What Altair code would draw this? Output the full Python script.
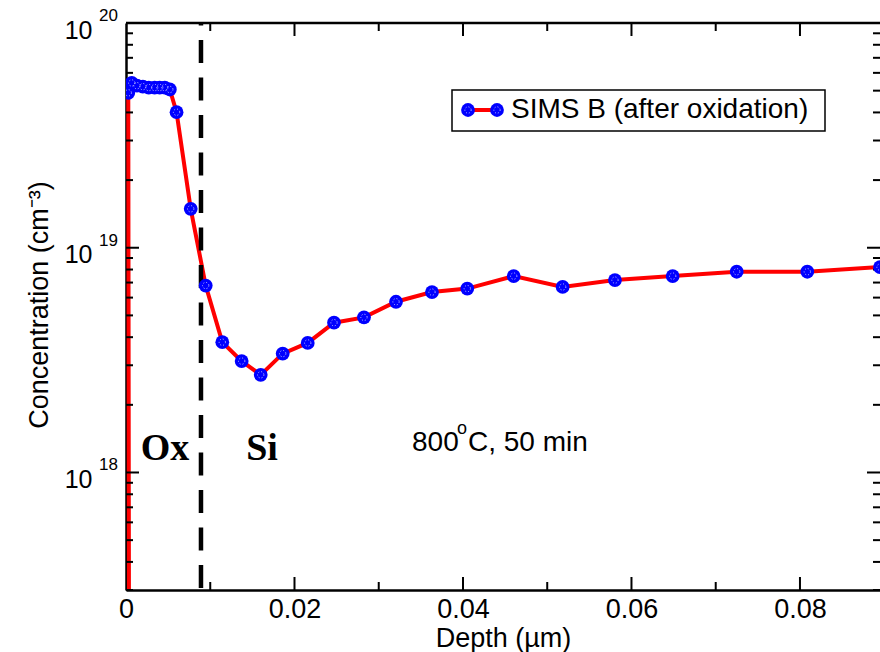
import altair as alt
import pandas as pd

# ---- data ----
depth_um = [0.0004, 0.00027, 0.00068, 0.0013, 0.0020, 0.0027, 0.0034, 0.0040, 0.0046, 0.0052,
            0.0060, 0.00768, 0.00946, 0.01143, 0.01373, 0.01599, 0.0186, 0.02157, 0.02469,
            0.02825, 0.03205, 0.03632, 0.04051, 0.04602, 0.05183, 0.05804, 0.06489, 0.07249,
            0.08087, 0.0895]
conc_cm3 = [1e16, 4.89e19, 5.41e19, 5.26e19, 5.21e19, 5.16e19, 5.16e19, 5.16e19, 5.16e19, 5.06e19,
            4.01e19, 1.49e19, 6.79e18, 3.80e18, 3.13e18, 2.72e18, 3.38e18, 3.77e18, 4.64e18,
            4.90e18, 5.75e18, 6.35e18, 6.58e18, 7.48e18, 6.69e18, 7.18e18, 7.48e18, 7.82e18,
            7.82e18, 8.20e18]
series_name = "SIMS B (after oxidation)"

x_domain = [0, 0.0895]
y_domain = [3e17, 1e20]
x_label_values = [0, 0.02, 0.04, 0.06, 0.08]
x_major_ticks = [0.02, 0.04, 0.06, 0.08]
x_minor_ticks = [0.01, 0.03, 0.05, 0.07]
y_major_ticks = [1e18, 1e19, 1e20]
y_exponents = ["18", "19", "20"]
y_minor_ticks = [3e17, 4e17, 5e17, 6e17, 7e17, 8e17, 9e17,
                 2e18, 3e18, 4e18, 5e18, 6e18, 7e18, 8e18, 9e18,
                 2e19, 3e19, 4e19, 5e19, 6e19, 7e19, 8e19, 9e19]

interface_depth = [0.0089]
region_labels = ["Ox", "Si"]
region_x = [0.00463, 0.01614]
region_y = [1.135e18, 1.135e18]
cond_x = [0.03395]
cond_y = [1.245e18]

W, H = 754, 567
FONT = "Liberation Sans"

xscale = alt.Scale(domain=x_domain, nice=False, zero=False)
yscale = alt.Scale(type="log", domain=y_domain, nice=False)

x_axis = alt.Axis(values=x_label_values,
                  labelExpr="datum.value == 0 ? '0' : format(datum.value, '.2f')",
                  title="Depth (µm)", titleY=56, titleBaseline="alphabetic",
                  labelPadding=27, labelBaseline="alphabetic", labelFlush=False,
                  labelOverlap=False)
y_axis = alt.Axis(values=y_major_ticks, labelExpr="'10'", title="Concentration (cm⁻³)",
                  labelPadding=34, labelBaseline="alphabetic", labelOffset=15,
                  labelFlush=False, labelOverlap=False,
                  titleX=-79, titleY=H / 2 - 2, titleAngle=270, titleAlign="center",
                  titleBaseline="alphabetic")


def X(field):
    return alt.X(field, scale=xscale, axis=x_axis)


def Y(field):
    return alt.Y(field, scale=yscale, axis=y_axis)


df = pd.DataFrame({"depth": depth_um, "conc": conc_cm3, "seq": list(range(len(depth_um)))})
one = pd.DataFrame({"k": [0]})

line = alt.Chart(df).mark_line(color="#ff0000", strokeWidth=4, clip=True).encode(
    x=X("depth:Q"), y=Y("conc:Q"), order="seq:Q")
points = alt.Chart(df).mark_point(filled=True, shape="circle", size=190, color="#0000ff",
                                  opacity=1, clip=True).encode(x=X("depth:Q"), y=Y("conc:Q"))
dots = alt.Chart(df).mark_point(shape="circle", size=40, filled=False, stroke="white",
                                strokeWidth=1, strokeDash=[1, 2], opacity=0.8, clip=True).encode(
    x=X("depth:Q"), y=Y("conc:Q"))

interface = alt.Chart(pd.DataFrame({"d": interface_depth})).mark_rule(
    color="black", strokeWidth=4.5, strokeDash=[23, 14.5], strokeDashOffset=20.5).encode(
    x=X("d:Q"), y=alt.value(0), y2=alt.value(H))

# ticks (pointing inward)
ymaj = pd.DataFrame({"v": y_major_ticks})
ymin = pd.DataFrame({"v": y_minor_ticks})
xmaj = pd.DataFrame({"v": x_major_ticks})
xmin = pd.DataFrame({"v": x_minor_ticks})
tk = dict(color="black", strokeWidth=2)
ticks = [
    alt.Chart(ymaj).mark_rule(**tk).encode(y=Y("v:Q"), x=alt.value(0), x2=alt.value(13)),
    alt.Chart(ymin).mark_rule(**tk).encode(y=Y("v:Q"), x=alt.value(0), x2=alt.value(7)),
    alt.Chart(ymaj).mark_rule(**tk).encode(y=Y("v:Q"), x=alt.value(W - 13), x2=alt.value(W)),
    alt.Chart(ymin).mark_rule(**tk).encode(y=Y("v:Q"), x=alt.value(W - 7), x2=alt.value(W)),
    alt.Chart(xmaj).mark_rule(**tk).encode(x=X("v:Q"), y=alt.value(H - 13), y2=alt.value(H)),
    alt.Chart(xmin).mark_rule(**tk).encode(x=X("v:Q"), y=alt.value(H - 8), y2=alt.value(H)),
    alt.Chart(xmaj).mark_rule(**tk).encode(x=X("v:Q"), y=alt.value(0), y2=alt.value(13)),
    alt.Chart(xmin).mark_rule(**tk).encode(x=X("v:Q"), y=alt.value(0), y2=alt.value(8)),
]
top_border = alt.Chart(one).mark_rule(color="black", strokeWidth=2.5).encode(
    x=alt.value(0), x2=alt.value(W), y=alt.value(0))

exps = alt.Chart(pd.DataFrame({"v": y_major_ticks, "t": y_exponents})).mark_text(
    align="right", baseline="alphabetic", font=FONT, fontSize=17, color="black", dy=-2).encode(
    y=Y("v:Q"), x=alt.value(-8), text="t:N")

regions = alt.Chart(pd.DataFrame({"x": region_x, "y": region_y, "t": region_labels})).mark_text(
    align="center", baseline="alphabetic", font="Liberation Serif", fontWeight="bold",
    fontSize=38, color="black").encode(x=X("x:Q"), y=Y("y:Q"), text="t:N")

cond_df = pd.DataFrame({"x": cond_x, "y": cond_y})
cond = [
    alt.Chart(cond_df).mark_text(text="800", align="left", baseline="alphabetic", font=FONT,
                                 fontSize=28, color="black").encode(x=X("x:Q"), y=Y("y:Q")),
    alt.Chart(cond_df).mark_text(text="o", align="left", baseline="alphabetic", font=FONT,
                                 fontSize=18, color="black", dx=45, dy=-17).encode(x=X("x:Q"), y=Y("y:Q")),
    alt.Chart(cond_df).mark_text(text="C, 50 min", align="left", baseline="alphabetic", font=FONT,
                                 fontSize=28, color="black", dx=56).encode(x=X("x:Q"), y=Y("y:Q")),
]

# legend (custom, inside the plot)
leg_box = alt.Chart(one).mark_rect(fill="white", stroke="black", strokeWidth=1.5).encode(
    x=alt.value(326), x2=alt.value(699), y=alt.value(67), y2=alt.value(108))
leg_line = alt.Chart(one).mark_rule(color="#ff0000", strokeWidth=4).encode(
    x=alt.value(342), x2=alt.value(371), y=alt.value(87))
leg_pts = [alt.Chart(one).mark_point(filled=True, shape="circle", size=190, color="#0000ff",
                                     opacity=1).encode(x=alt.value(px), y=alt.value(87))
           for px in (342, 371)]
leg_dots = [alt.Chart(one).mark_point(shape="circle", size=40, filled=False, stroke="white",
                                      strokeWidth=1, strokeDash=[1, 2], opacity=0.8).encode(
    x=alt.value(px), y=alt.value(87)) for px in (342, 371)]
leg_text = alt.Chart(one).mark_text(text=series_name, align="left", baseline="alphabetic",
                                    font=FONT, fontSize=28, color="black").encode(
    x=alt.value(385), y=alt.value(95))

chart = alt.layer(
    line, *ticks, top_border, interface, points, dots, exps, regions, *cond,
    leg_box, leg_line, *leg_pts, *leg_dots, leg_text,
).properties(
    width=W, height=H,
    autosize=alt.AutoSizeParams(type="none"),
    padding={"left": 126, "top": 23, "right": 0, "bottom": 62},
    background="white",
).configure_view(stroke=None).configure_axis(
    domain=True, domainColor="black", domainWidth=2.5, ticks=False, grid=False,
    labelFont=FONT, labelColor="black", titleFont=FONT, titleColor="black",
    titleFontWeight="normal",
).configure_axisX(labelFontSize=27, titleFontSize=27).configure_axisY(
    labelFontSize=25, titleFontSize=27)

chart.save("out.html", embed_options={"renderer": "svg", "actions": False})
